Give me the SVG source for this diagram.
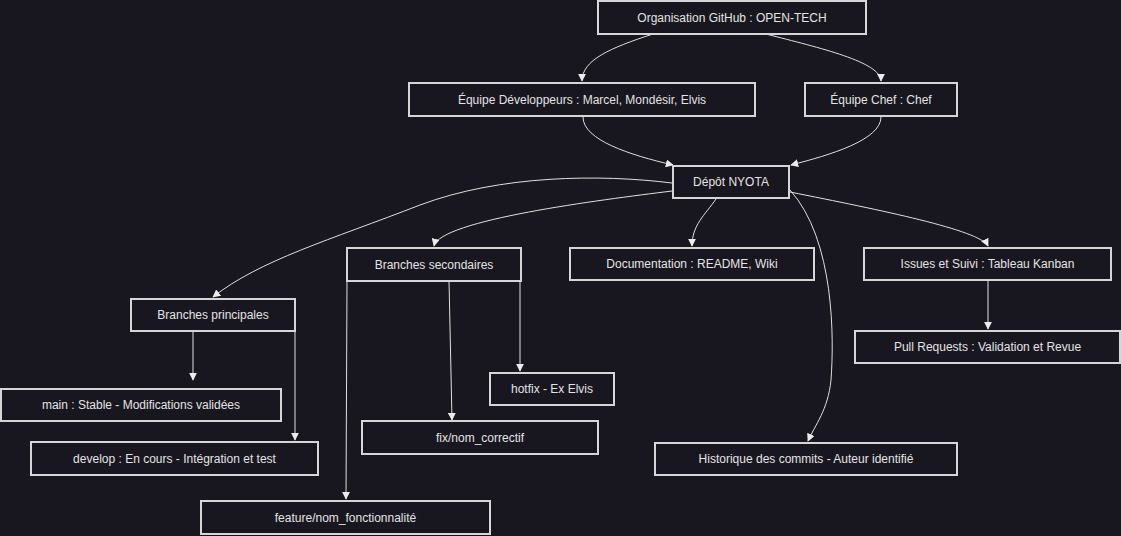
<svg xmlns="http://www.w3.org/2000/svg" width="1121" height="536" viewBox="0 0 1121 536">
<style>
.bg{fill:#18161e}
.n rect{fill:#18161e;stroke:#d6d6d6;stroke-width:2}
.n text{fill:#e4e4e4;font-family:"Liberation Sans",Arial,sans-serif;font-size:12px;text-anchor:middle;dominant-baseline:central}
.c path{fill:none;stroke:#e0e0e0;stroke-width:1;marker-end:url(#ah)}
</style>
<defs>
<marker id="ah" viewBox="0 0 10 10" refX="9" refY="5" markerWidth="8" markerHeight="8" markerUnits="userSpaceOnUse" orient="auto">
<path d="M0,0 L10,5 L0,10 z" fill="#ececec"/>
</marker>
</defs>
<rect class="bg" x="0" y="0" width="1121" height="536"/>
<g class="c">
<path d="M653,34 C610,48 582,60 582,81"/>
<path d="M766,34 C820,48 881,62 881,81"/>
<path d="M583,117 C583,140 630,155 673,165"/>
<path d="M881,117 C881,140 830,155 791,165"/>
<path d="M672,183 C600,174 500,175 420,205 C330,240 260,260 213,297"/>
<path d="M672,191 C600,200 440,220 434,246"/>
<path d="M716,199 C705,215 692,225 692,246"/>
<path d="M790,190 C835,240 834,340 831,380 C828,410 815,425 808,441"/>
<path d="M790,192 C880,210 980,230 988,246"/>
<path d="M988,281 L988,329"/>
<path d="M193,332 L193,380"/>
<path d="M295,332 L295,440"/>
<path d="M347,281 L346,499"/>
<path d="M449,281 L452,420"/>
<path d="M520,281 L520,371"/>
</g>
<g id="org" class="n"><rect x="598" y="1" width="268" height="33"/><text x="732" y="17.5">Organisation GitHub : OPEN-TECH</text></g>
<g id="dev" class="n"><rect x="409" y="83" width="346" height="33"/><text x="582" y="99.5">Équipe Développeurs : Marcel, Mondésir, Elvis</text></g>
<g id="chef" class="n"><rect x="805" y="83" width="152" height="33"/><text x="881" y="99.5">Équipe Chef : Chef</text></g>
<g id="depot" class="n"><rect x="673" y="166" width="116" height="32"/><text x="731" y="182">Dépôt NYOTA</text></g>
<g id="bsec" class="n"><rect x="347" y="248" width="174" height="33"/><text x="434" y="264.5">Branches secondaires</text></g>
<g id="doc" class="n"><rect x="570" y="248" width="244" height="32"/><text x="692" y="264">Documentation : README, Wiki</text></g>
<g id="issues" class="n"><rect x="864" y="248" width="247" height="32"/><text x="987.5" y="264">Issues et Suivi : Tableau Kanban</text></g>
<g id="bprin" class="n"><rect x="131" y="299" width="164" height="32"/><text x="213" y="315">Branches principales</text></g>
<g id="pr" class="n"><rect x="855" y="331" width="265" height="32"/><text x="987.5" y="347">Pull Requests : Validation et Revue</text></g>
<g id="main" class="n"><rect x="1" y="389" width="280" height="32"/><text x="141" y="405">main : Stable - Modifications validées</text></g>
<g id="hotfix" class="n"><rect x="490" y="373" width="124" height="32"/><text x="552" y="389">hotfix - Ex Elvis</text></g>
<g id="fix" class="n"><rect x="362" y="421" width="236" height="33"/><text x="480" y="437.5">fix/nom_correctif</text></g>
<g id="develop" class="n"><rect x="31" y="442" width="287" height="33"/><text x="174.5" y="458.5">develop : En cours - Intégration et test</text></g>
<g id="hist" class="n"><rect x="655" y="443" width="302" height="32"/><text x="806" y="459">Historique des commits - Auteur identifié</text></g>
<g id="feature" class="n"><rect x="201" y="501" width="289" height="33"/><text x="345.5" y="517.5">feature/nom_fonctionnalité</text></g>
</svg>
